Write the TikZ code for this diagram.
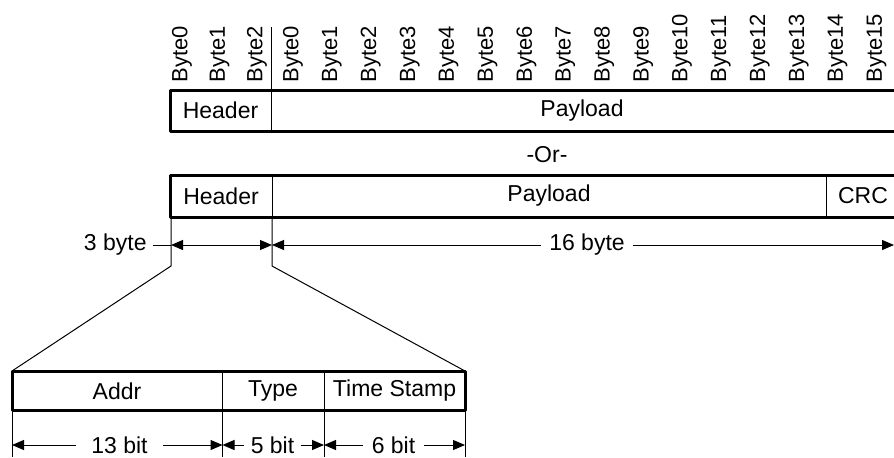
\documentclass[tikz,border=0pt]{standalone}
\usepackage{fontspec}
\setmainfont{Liberation Sans}
\usetikzlibrary{arrows.meta, positioning, calc}

\begin{document}
\begin{tikzpicture}[x=0.5pt, y=-0.5pt, >={Triangle[length=6pt, width=5pt]},
    frame/.style={line width=1.5pt, line join=round},
    sep/.style={line width=0.5pt},
    dim/.style={line width=0.5pt},
    field/.style={font=\fontsize{11.5}{13}\selectfont, inner sep=0pt},
    dimlbl/.style={field, fill=white, inner xsep=#1, inner ysep=1pt},
    dimlbl/.default=3pt,
    bytelbl/.style={font=\fontsize{11}{12}\selectfont, rotate=90,
                    anchor=west, inner sep=0pt}]
    \useasboundingbox (0,0) rectangle (894,457);
    % byte numbers
    \foreach \x [count=\i from 0] in {182,219.5,257}
      \node[bytelbl] (hb\i) at (\x,83) {Byte\i};
    \foreach \i in {0,...,15}
      \node[bytelbl] (pb\i) at ({293+38.9*\i},83) {Byte\i};
    % frame without CRC
    \draw[frame] (894,90) -- (170,90) -- (170,131) -- (894,131);
    \draw[sep] (271,27) -- (271,131);
    \node[field] (hdrA) at (220.5,110.5) {Header};
    \node[field] (payA) at (582,110.5) {Payload};
    \node[field] (orlbl) at (547,155) {-Or-};
    % frame with CRC
    \draw[frame] (894,175) -- (170,175) -- (170,217) -- (894,217);
    \draw[sep] (272,175) -- (272,217);
    \draw[sep] (826,175) -- (826,217);
    \node[field] (hdrB) at (221,196) {Header};
    \node[field] (payB) at (549,196) {Payload};
    \node[field] (crc) at (863,196) {CRC};
    % byte counts
    \coordinate (hl) at (171,245);
    \coordinate (hr) at (272,245);
    \coordinate (pr) at (894,245);
    \draw[dim] (171,217) -- (hl) -- (171,266) -- (12,371);
    \draw[dim] (272,217) -- (hr) -- (272,266) -- (465,371);
    \node[field, anchor=east, inner xsep=3pt] (by3) at (153,245) {3 byte};
    \node[dimlbl=4pt] (by16) at (587,245) {16 byte};
    \draw[dim] (by3.east) -- (hl);
    \draw[dim, <->] (hl) -- (hr);
    \draw[dim, <-] (hr) -- (by16);
    \draw[dim, ->] (by16) -- (pr);
    % header fields
    \draw[frame] (12,371) rectangle (465,410);
    \draw[sep] (222.5,371) -- (222.5,410);
    \draw[sep] (324,371) -- (324,410);
    \node[field] (addr) at (117,391) {Addr};
    \node[field] (type) at (273,391) {Type};
    \node[field] (tstamp) at (394.5,391) {Time Stamp};
    % bit counts
    \foreach \x [count=\i] in {12,222.5,324,465}
      \draw[dim] (\x,410) -- (\x,457) coordinate[pos=0.7] (f\i);
    \node[dimlbl=7.5pt] (bit13) at (119.5,445) {13 bit};
    \node[dimlbl=3pt] (bit5) at (272.5,445) {5 bit};
    \node[dimlbl=4pt] (bit6) at (393.5,445) {6 bit};
    \draw[dim, <-] (12,445) -- (bit13);
    \draw[dim, ->] (bit13) -- (222.5,445);
    \draw[dim, <-] (222.5,445) -- (bit5);
    \draw[dim, ->] (bit5) -- (324,445);
    \draw[dim, <-] (324,445) -- (bit6);
    \draw[dim, ->] (bit6) -- (465,445);
\end{tikzpicture}
\end{document}
